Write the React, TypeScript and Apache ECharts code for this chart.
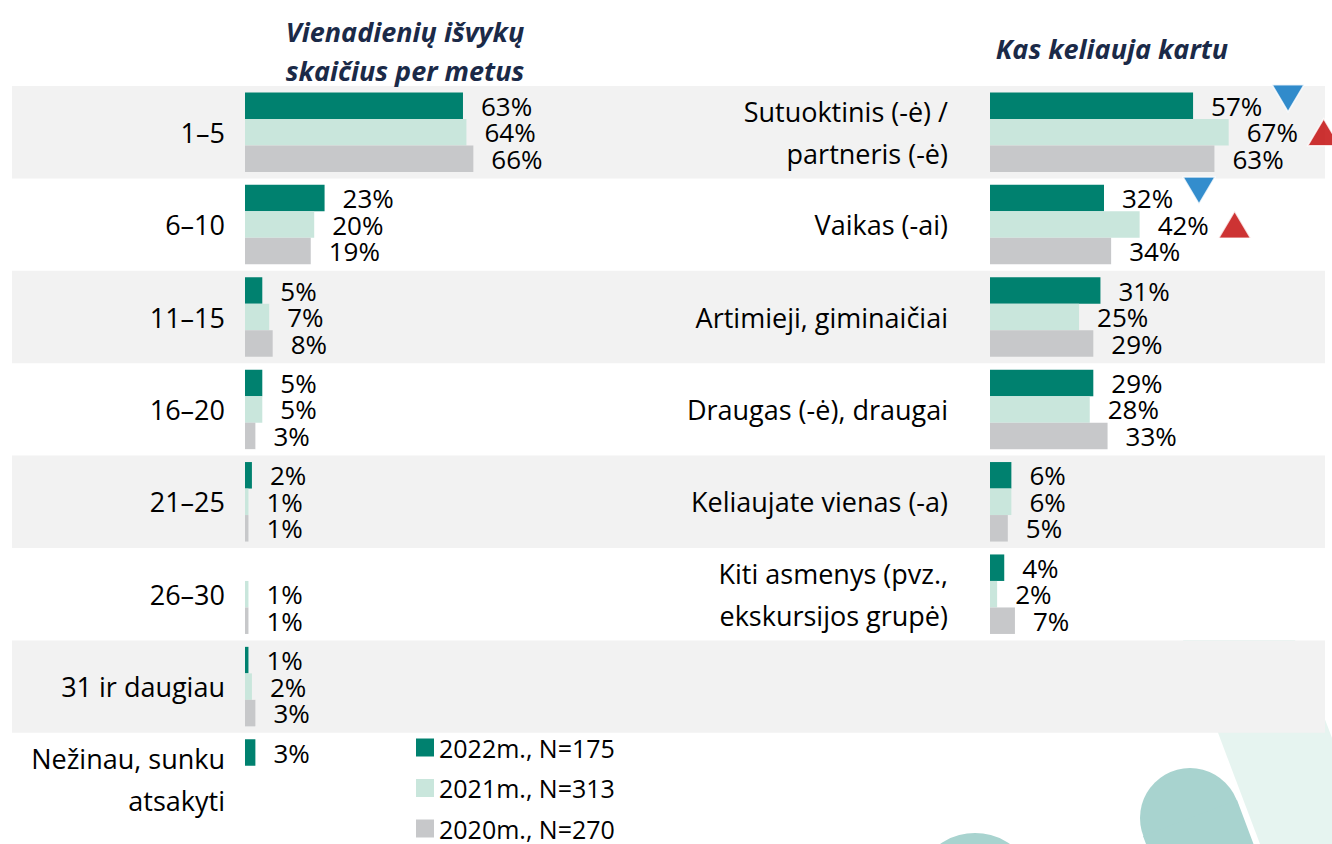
import React, { useEffect, useRef } from "react";
import * as echarts from "echarts";

const leftCategories = [
  "1–5",
  "6–10",
  "11–15",
  "16–20",
  "21–25",
  "26–30",
  "31 ir daugiau",
  "Nežinau, sunku\natsakyti",
];
const left2022 = [63, 23, 5, 5, 2, null, 1, 3];
const left2021 = [64, 20, 7, 5, 1, 1, 2, null];
const left2020 = [66, 19, 8, 3, 1, 1, 3, null];

const rightCategories = [
  "Sutuoktinis (-ė) /\npartneris (-ė)",
  "Vaikas (-ai)",
  "Artimieji, giminaičiai",
  "Draugas (-ė), draugai",
  "Keliaujate vienas (-a)",
  "Kiti asmenys (pvz.,\nekskursijos grupė)",
];
const right2022 = [57, 32, 31, 29, 6, 4];
const right2021 = [67, 42, 25, 28, 6, 2];
const right2020 = [63, 34, 29, 33, 5, 7];
// significance markers: -1 = decrease (blue down), 1 = increase (red up)
const sig2022 = [-1, -1, 0, 0, 0, 0];
const sig2021 = [1, 1, 0, 0, 0, 0];

const seriesNames = ["2022m., N=175", "2021m., N=313", "2020m., N=270"];
const seriesColors = ["#00816f", "#c9e6dc", "#c7c8ca"];
const leftTitle = "Vienadienių išvykų\nskaičius per metus";
const rightTitle = "Kas keliauja kartu";

const FONT = '"Open Sans", "Noto Sans", sans-serif';

export default function App() {
  const ref = useRef<HTMLDivElement>(null);
  useEffect(() => {
    if (!ref.current) return;
    const chart = echarts.init(ref.current, null, { renderer: "svg" });
    const rowH = 92.4;
    const top = 86;
    const barW = 26.5;

    const labelCfg = {
      show: true,
      position: "right",
      distance: 18,
      fontSize: 26,
      lineHeight: 26,
      fontFamily: FONT,
      color: "#000",
      formatter: "{c}%",
    };

    const makeBars = (datas: (number | null)[][], gi: number) =>
      datas.map((d, i) => ({
        type: "bar",
        name: seriesNames[i],
        xAxisIndex: gi,
        yAxisIndex: gi,
        data: d,
        barWidth: barW,
        barGap: "0%",
        itemStyle: { color: seriesColors[i] },
        label: labelCfg,
        z: 3,
      }));

    const collect = (vals: number[], sig: number[], dir: number) => {
      const out: any[] = [];
      sig.forEach((s, i) => {
        if (s === dir) out.push([vals[i], i]);
      });
      return out;
    };
    const downPath = "path://M0,0 L10,0 L5,8.4 Z";
    const markerBase = {
      type: "scatter",
      xAxisIndex: 1,
      yAxisIndex: 1,
      silent: true,
      clip: false,
      z: 6,
      symbolSize: [32, 27],
    };
    const blue = { color: "#0070c0", borderColor: "#ffffff", borderWidth: 1.5 };
    const red = { color: "#c00000", borderColor: "#ffffff", borderWidth: 1.5 };

    const titleStyle = {
      fontFamily: FONT,
      fontSize: 27,
      fontStyle: "italic",
      fontWeight: "bold",
      color: "#1b2a48",
      lineHeight: 39,
    };

    const legendBase = {
      orient: "vertical",
      left: 416,
      padding: 0,
      itemWidth: 18,
      itemHeight: 18,
      icon: "rect",
      selectedMode: false,
      textStyle: { fontFamily: FONT, fontSize: 25, color: "#000", lineHeight: 24 },
    };

    const option: any = {
      animation: false,
      backgroundColor: "#ffffff",
      title: [
        { text: leftTitle, left: 400, top: 7, textAlign: "center", textStyle: titleStyle },
        { text: rightTitle, left: 1107, top: 24, textAlign: "center", textStyle: titleStyle },
      ],
      legend: seriesNames.map((n, i) => ({ ...legendBase, data: [n], top: 735 + i * 40.5 })),
      graphic: [
        {
          type: "polygon",
          z: -10,
          shape: {
            points: [
              [1183, 640],
              [1295, 640],
              [1372, 844],
              [1260, 844],
            ],
          },
          style: { fill: "#e6f4f0" },
        },
        {
          type: "circle",
          z: -5,
          shape: { cx: 1190, cy: 818, r: 50 },
          style: { fill: "#a8d3cf" },
        },
        {
          type: "polygon",
          z: -5,
          shape: {
            points: [
              [1237, 800],
              [1307, 987],
              [1213, 1023],
              [1143, 836],
            ],
          },
          style: { fill: "#a8d3cf" },
        },
        {
          type: "circle",
          z: -5,
          shape: { cx: 975, cy: 894, r: 61 },
          style: { fill: "#a8d3cf" },
        },
      ],
      grid: [
        { left: 245, width: 346, top: top, height: rowH * 8 },
        { left: 990, right: 0, top: top, height: rowH * 6 },
        { left: 12, width: 1313, top: top, height: rowH * 8 },
      ],
      xAxis: [
        { type: "value", gridIndex: 0, min: 0, max: 100, show: false },
        { type: "value", gridIndex: 1, min: 0, max: 96, show: false },
        { type: "value", gridIndex: 2, min: 0, max: 100, show: false },
      ],
      yAxis: [
        {
          type: "category",
          gridIndex: 0,
          data: leftCategories,
          inverse: true,
          axisLine: { show: false },
          axisTick: { show: false },
          axisLabel: {
            interval: 0,
            margin: 20,
            fontFamily: FONT,
            fontSize: 27,
            color: "#000",
            lineHeight: 42,
            align: "right",
          },
        },
        {
          type: "category",
          gridIndex: 1,
          data: rightCategories,
          inverse: true,
          axisLine: { show: false },
          axisTick: { show: false },
          axisLabel: {
            interval: 0,
            margin: 42,
            fontFamily: FONT,
            fontSize: 27,
            color: "#000",
            lineHeight: 42,
            align: "right",
          },
        },
        {
          type: "category",
          gridIndex: 2,
          data: leftCategories,
          inverse: true,
          z: 0,
          axisLine: { show: false },
          axisTick: { show: false },
          axisLabel: { show: false },
          splitArea: {
            show: true,
            interval: 0,
            areaStyle: { color: ["#f2f2f2", "rgba(255,255,255,0)"] },
          },
        },
      ],
      series: [
        ...makeBars([left2022, left2021, left2020], 0),
        ...makeBars([right2022, right2021, right2020], 1),
        {
          ...markerBase,
          name: "down2022",
          data: collect(right2022, sig2022, -1),
          symbol: downPath,
          symbolOffset: [95, -34],
          itemStyle: blue,
        },
        {
          ...markerBase,
          name: "up2021",
          data: collect(right2021, sig2021, 1),
          symbol: "triangle",
          symbolOffset: [95, 0],
          itemStyle: red,
        },
      ],
    };
    chart.setOption(option);
    return () => chart.dispose();
  }, []);
  return (
    <div
      ref={ref}
      style={{ position: "absolute", left: 0, top: 0, width: 1332, height: 844 }}
    />
  );
}
